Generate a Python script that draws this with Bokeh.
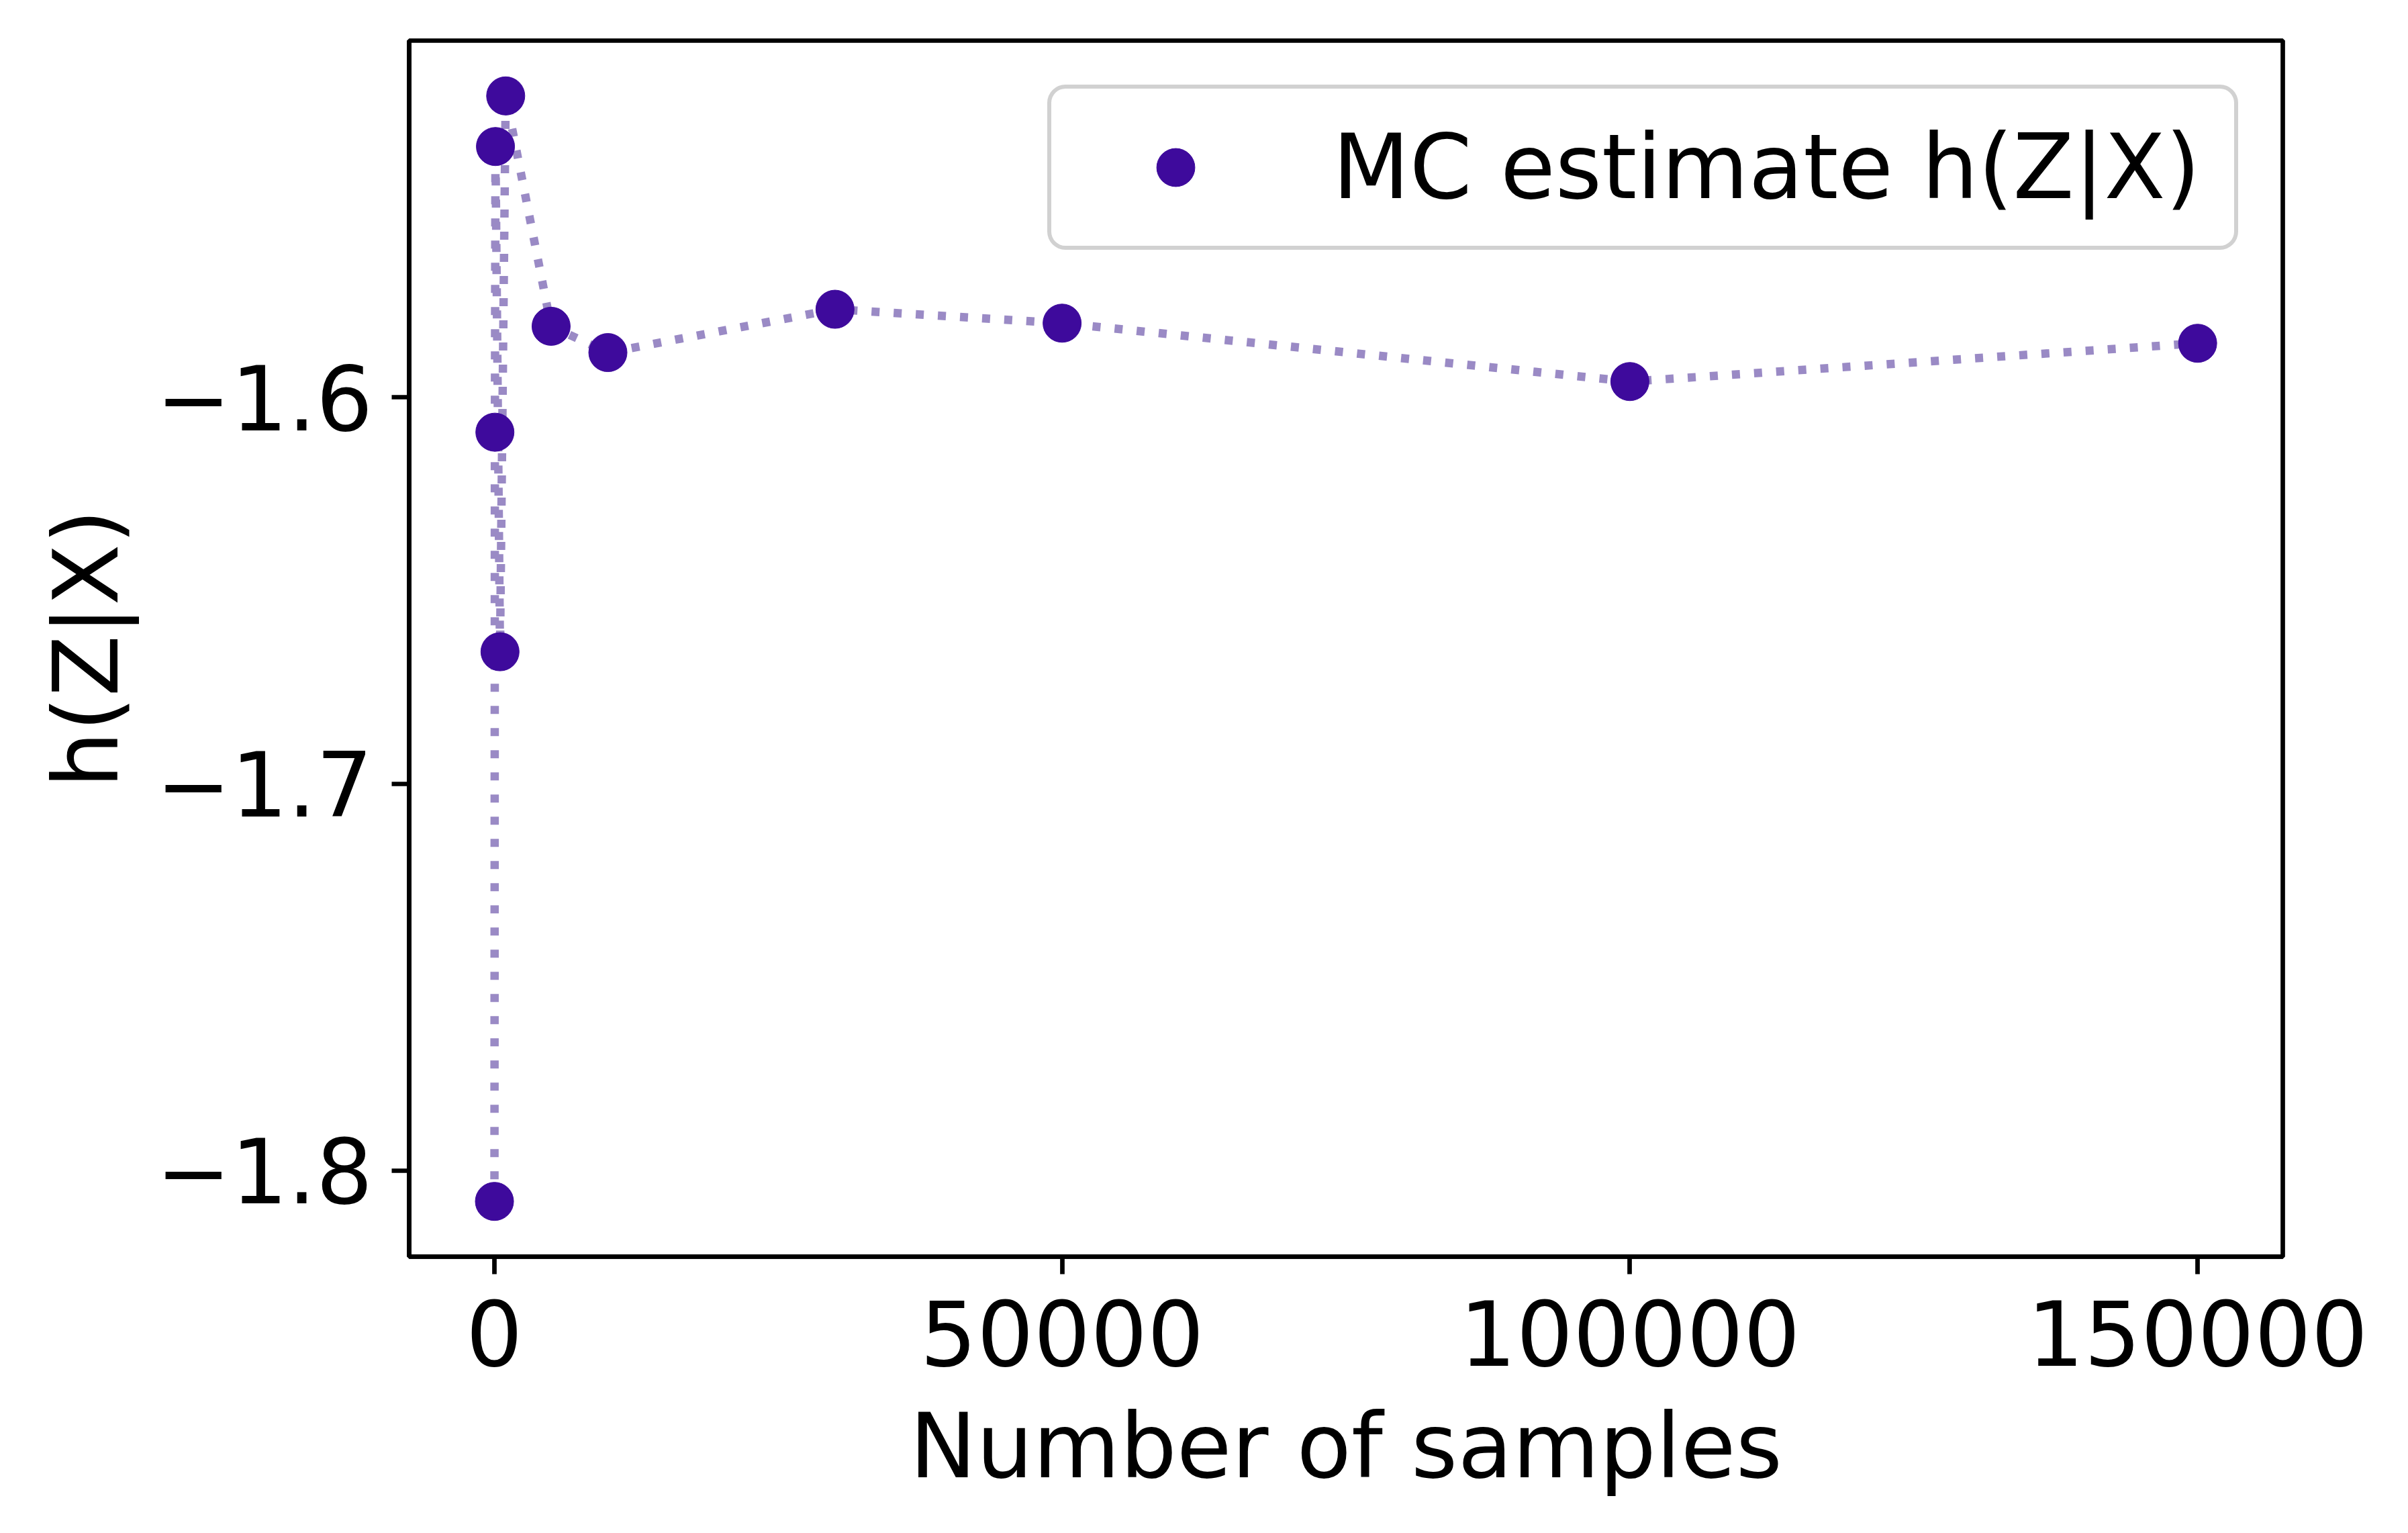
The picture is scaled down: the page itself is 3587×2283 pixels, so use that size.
from bokeh.plotting import figure
from bokeh.models import Range1d, FixedTicker, Legend, LegendItem
from bokeh.embed import file_html
from bokeh.resources import INLINE

# ---- data ----
samples = [10, 50, 100, 500, 1000, 5000, 10000, 30000, 50000, 100000, 150000]
h_est = [-1.8080, -1.6090, -1.5351, -1.6658, -1.5220, -1.5816, -1.5884,
         -1.5772, -1.5808, -1.5959, -1.5860]
x_ticks = [0, 50000, 100000, 150000]
x_tick_labels = ["0", "50000", "100000", "150000"]
y_ticks = [-1.8, -1.7, -1.6]
y_tick_labels = ["\u22121.8", "\u22121.7", "\u22121.6"]
series_label = "MC estimate h(Z|X)"
x_label = "Number of samples"
y_label = "h(Z|X)"

COLOR = "#3e0a9c"
LINE_COLOR = "#9a8ac5"
FONT = "DejaVu Sans"
FS = "133px"

p = figure(width=3571, height=2267, output_backend="svg", toolbar_location=None,
           x_range=Range1d(-7500, 157500), y_range=Range1d(-1.8223, -1.5077),
           min_border_left=609, min_border_right=171,
           min_border_top=60, min_border_bottom=396)
p.background_fill_color = "white"
p.border_fill_color = "white"
p.outline_line_color = "black"
p.outline_line_width = 6.7
p.outline_line_alpha = 1.0
p.xgrid.visible = False
p.ygrid.visible = False

p.line(samples, h_est, line_color=LINE_COLOR, line_width=12.5,
       line_dash="12 21")
r = p.scatter(samples, h_est, size=57, fill_color=COLOR, line_color=COLOR,
              line_width=1)

p.xaxis.ticker = FixedTicker(ticks=x_ticks)
p.xaxis.major_label_overrides = dict(zip(x_ticks, x_tick_labels))
p.yaxis.ticker = FixedTicker(ticks=y_ticks)
p.yaxis.major_label_overrides = dict(zip(y_ticks, y_tick_labels))
p.xaxis.axis_label = x_label
p.yaxis.axis_label = y_label

for ax in (p.xaxis, p.yaxis):
    ax.axis_line_color = "black"
    ax.axis_line_width = 6.7
    ax.major_tick_line_color = "black"
    ax.major_tick_line_width = 6.7
    ax.major_tick_out = 26
    ax.major_tick_in = 0
    ax.minor_tick_line_color = None
    ax.major_label_text_font = FONT
    ax.major_label_text_font_size = FS
    ax.major_label_text_color = "black"
    ax.axis_label_text_font = FONT
    ax.axis_label_text_font_size = FS
    ax.axis_label_text_font_style = "normal"
    ax.axis_label_text_color = "black"

p.xaxis.major_label_standoff = 38
p.xaxis.axis_label_standoff = 40
p.yaxis.major_label_standoff = 28
p.yaxis.axis_label_standoff = 24

legend = Legend(items=[LegendItem(label=series_label, renderers=[r])],
                location="top_right", margin=66, padding=40,
                glyph_width=290, glyph_height=142, label_standoff=89,
                label_width=1303,
                label_text_font=FONT, label_text_font_size=FS,
                label_text_color="black",
                border_line_color="#cccccc", border_line_width=6,
                border_line_alpha=0.9, border_radius=27,
                background_fill_color="white", background_fill_alpha=0.8)
p.add_layout(legend)

open("out.html", "w").write(file_html(p, INLINE))
